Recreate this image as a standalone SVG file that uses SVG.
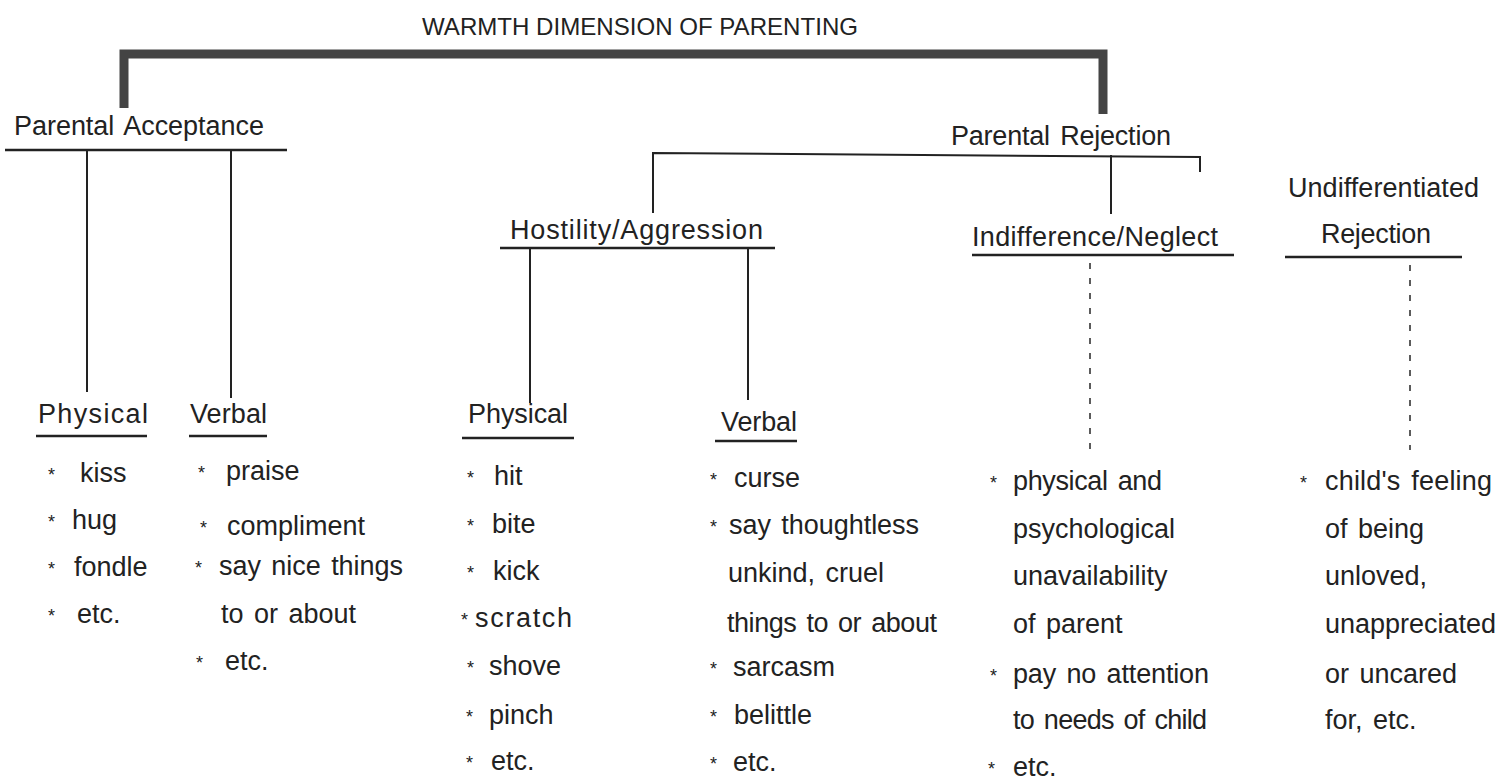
<svg xmlns="http://www.w3.org/2000/svg" width="1511" height="780" viewBox="0 0 1511 780">
<style>
text{font-family:"Liberation Sans",Arial,sans-serif;fill:#222;}
.t{font-size:24px;}
.h{font-size:27px;word-spacing:3px;}
.i{font-size:27px;word-spacing:3px;}
.a{font-size:18px;}
.ln{stroke:#222;stroke-width:2;fill:none;}
.ul{stroke:#222;stroke-width:2.5;fill:none;}
.dash{stroke:#333;stroke-width:1.6;stroke-dasharray:6 9;fill:none;}
.thick{stroke:#444;stroke-width:9;fill:none;stroke-linejoin:miter;}
</style>
<rect width="1511" height="780" fill="#fff"/>
<g id="connectors">
<polyline class="thick" points="124,108 124,54 1103,54 1103,114"/>
<line class="ul" x1="5" y1="150" x2="287" y2="150"/>
<line class="ln" x1="87" y1="150" x2="87" y2="392"/>
<line class="ln" x1="231" y1="150" x2="231" y2="398"/>
<polyline class="ln" points="653,213 653,153 1200,157 1200,172"/>
<line class="ln" x1="1111" y1="155" x2="1111" y2="214"/>
<line class="ul" x1="500" y1="248" x2="775" y2="248"/>
<line class="ln" x1="530" y1="248" x2="530" y2="403"/>
<line class="ln" x1="748" y1="248" x2="748" y2="400"/>
<line class="ul" x1="972" y1="255" x2="1234" y2="255"/>
<line class="dash" x1="1090" y1="263" x2="1090" y2="455"/>
<line class="ul" x1="1285" y1="257" x2="1462" y2="257"/>
<line class="dash" x1="1410" y1="265" x2="1410" y2="450"/>
<line class="ul" x1="36" y1="436" x2="147" y2="436"/>
<line class="ul" x1="189" y1="436" x2="267" y2="436"/>
<line class="ul" x1="462" y1="438" x2="574" y2="438"/>
<line class="ul" x1="715" y1="441" x2="797" y2="441"/>
</g>
<g id="title"><text class="t" x="422" y="35" textLength="436" lengthAdjust="spacingAndGlyphs">WARMTH  DIMENSION OF PARENTING</text></g>
<g id="acceptance"><text class="h" x="14" y="135" textLength="250" lengthAdjust="spacing">Parental  Acceptance</text></g>
<g id="rejection"><text class="h" x="951" y="145" textLength="220" lengthAdjust="spacing">Parental  Rejection</text></g>
<g id="hostility"><text class="h" x="510" y="239" textLength="253" lengthAdjust="spacing">Hostility/Aggression</text></g>
<g id="indifference"><text class="h" x="972" y="246" textLength="246" lengthAdjust="spacing">Indifference/Neglect</text></g>
<g id="undifferentiated"><text class="h" x="1288" y="197" textLength="191" lengthAdjust="spacing">Undifferentiated</text><text class="h" x="1321" y="243" textLength="110" lengthAdjust="spacing">Rejection</text></g>
<g id="acc-physical">
<text class="i" x="38" y="423" textLength="110" lengthAdjust="spacing">Physical</text>
<text class="a" x="48" y="481">*</text><text class="i" x="80" y="482">kiss</text>
<text class="a" x="48" y="528">*</text><text class="i" x="72" y="529">hug</text>
<text class="a" x="48" y="575">*</text><text class="i" x="74" y="576">fondle</text>
<text class="a" x="48" y="622">*</text><text class="i" x="77" y="623">etc.</text>
</g>
<g id="acc-verbal">
<text class="i" x="190" y="423" textLength="77" lengthAdjust="spacing">Verbal</text>
<text class="a" x="198" y="479">*</text><text class="i" x="226" y="480">praise</text>
<text class="a" x="200" y="534">*</text><text class="i" x="227" y="535">compliment</text>
<text class="a" x="195" y="574">*</text><text class="i" x="219" y="575" textLength="184" lengthAdjust="spacing">say nice things</text>
<text class="i" x="221" y="623">to or about</text>
<text class="a" x="196" y="669">*</text><text class="i" x="225" y="670">etc.</text>
</g>
<g id="hos-physical">
<text class="i" x="468" y="423" textLength="100" lengthAdjust="spacing">Physical</text>
<text class="a" x="467" y="484">*</text><text class="i" x="494" y="485">hit</text>
<text class="a" x="467" y="532">*</text><text class="i" x="492" y="533">bite</text>
<text class="a" x="467" y="579">*</text><text class="i" x="493" y="580">kick</text>
<text class="a" x="461" y="626">*</text><text class="i" x="475" y="627" textLength="97" lengthAdjust="spacing">scratch</text>
<text class="a" x="467" y="674">*</text><text class="i" x="489" y="675">shove</text>
<text class="a" x="466" y="723">*</text><text class="i" x="489" y="724">pinch</text>
<text class="a" x="466" y="769">*</text><text class="i" x="491" y="770">etc.</text>
</g>
<g id="hos-verbal">
<text class="i" x="721" y="431" textLength="76" lengthAdjust="spacing">Verbal</text>
<text class="a" x="710" y="486">*</text><text class="i" x="734" y="487">curse</text>
<text class="a" x="710" y="533">*</text><text class="i" x="729" y="534" textLength="190" lengthAdjust="spacing">say thoughtless</text>
<text class="i" x="728" y="582">unkind, cruel</text>
<text class="i" x="727" y="632" textLength="210" lengthAdjust="spacing">things to or about</text>
<text class="a" x="710" y="675">*</text><text class="i" x="733" y="676">sarcasm</text>
<text class="a" x="710" y="723">*</text><text class="i" x="734" y="724">belittle</text>
<text class="a" x="710" y="770">*</text><text class="i" x="733" y="771">etc.</text>
</g>
<g id="ind-items">
<text class="a" x="990" y="489">*</text><text class="i" x="1013" y="490" textLength="149" lengthAdjust="spacing">physical and</text>
<text class="i" x="1013" y="538">psychological</text>
<text class="i" x="1013" y="585">unavailability</text>
<text class="i" x="1013" y="633">of parent</text>
<text class="a" x="990" y="682">*</text><text class="i" x="1013" y="683" textLength="196" lengthAdjust="spacing">pay no attention</text>
<text class="i" x="1013" y="729" textLength="194" lengthAdjust="spacing">to needs of child</text>
<text class="a" x="988" y="775">*</text><text class="i" x="1013" y="776">etc.</text>
</g>
<g id="undiff-items">
<text class="a" x="1300" y="489">*</text><text class="i" x="1325" y="490" textLength="167" lengthAdjust="spacing">child's feeling</text>
<text class="i" x="1325" y="538">of being</text>
<text class="i" x="1325" y="585">unloved,</text>
<text class="i" x="1325" y="633">unappreciated</text>
<text class="i" x="1325" y="683">or uncared</text>
<text class="i" x="1325" y="729">for,  etc.</text>
</g>
</svg>
